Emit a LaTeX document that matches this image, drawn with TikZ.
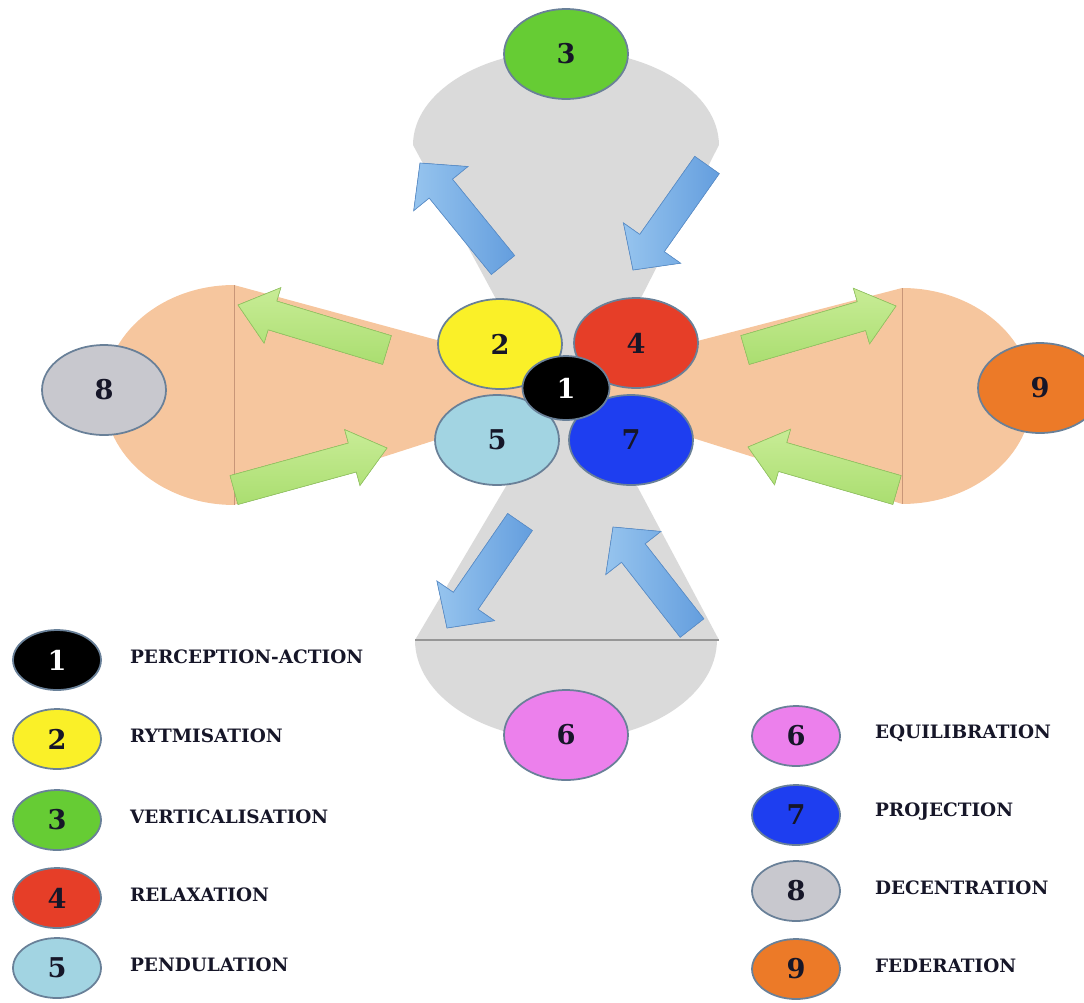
\documentclass[tikz,border=0pt]{standalone}
\usepackage{fontspec}
\setmainfont{DejaVu Serif}
\usetikzlibrary{shapes.geometric,calc,positioning}

\definecolor{graybg}{RGB}{218,218,218}
\definecolor{grayedge}{RGB}{150,150,150}
\definecolor{orangebg}{RGB}{246,198,158}
\definecolor{orangeedge}{RGB}{200,150,120}
\definecolor{bluearr}{RGB}{100,158,222}
\definecolor{bluelight}{RGB}{150,196,238}
\definecolor{bluearredge}{RGB}{92,145,205}
\definecolor{greenarr}{RGB}{170,222,112}
\definecolor{greenlight}{RGB}{200,236,150}
\definecolor{greenarredge}{RGB}{150,200,100}
\definecolor{ringcol}{RGB}{105,128,152}
\definecolor{inkcol}{RGB}{22,22,40}
\definecolor{c1}{RGB}{0,0,0}
\definecolor{c2}{RGB}{250,240,40}
\definecolor{c3}{RGB}{102,204,52}
\definecolor{c4}{RGB}{230,62,40}
\definecolor{c5}{RGB}{162,212,226}
\definecolor{c6}{RGB}{236,128,236}
\definecolor{c7}{RGB}{30,62,240}
\definecolor{c8}{RGB}{200,200,206}
\definecolor{c9}{RGB}{236,122,40}

% block arrow: style, tail, tip, shaft half width, head half width, head length
\newcommand{\blockarrow}[6]{%
  \filldraw[#1] ($(#2)!#4!90:(#3)$) -- ($(#3)!#6!(#2)!#4!90:(#3)$)
    -- ($(#3)!#6!(#2)!#5!90:(#3)$) -- (#3)
    -- ($(#3)!#6!(#2)!#5!-90:(#3)$) -- ($(#3)!#6!(#2)!#4!-90:(#3)$)
    -- ($(#2)!#4!-90:(#3)$) -- cycle;}

\begin{document}
\begin{tikzpicture}[x=0.02cm, y=-0.02cm,
  disc/.style={ellipse, draw=ringcol, line width=1pt, minimum width=2.48cm,
    minimum height=1.8cm, inner sep=0pt, text=inkcol,
    font=\bfseries\fontsize{15.5}{18}\selectfont},
  keydisc/.style={disc, minimum width=1.76cm, minimum height=1.2cm},
  keytext/.style={anchor=west, text=inkcol, yshift=0.06cm,
    font=\bfseries\fontsize{10.5}{12}\selectfont},
  bluearrow/.style={left color=bluelight, right color=bluearr, draw=bluearredge, line width=0.4pt},
  greenarrow/.style={top color=greenlight, bottom color=greenarr, draw=greenarredge, line width=0.4pt}]
  \useasboundingbox (0,0) rectangle (1084,1002);

  % gray lobes (top and bottom)
  \fill[graybg] (545,390) -- (413,145) arc[start angle=180, end angle=0,
    x radius=3.06cm, y radius=1.9cm] -- (594,390) -- cycle;
  \fill[graybg] (563,390) -- (415,640) arc[start angle=180, end angle=360,
    x radius=3.02cm, y radius=2cm] -- (719,640) -- (586,390) -- cycle;
  \draw[grayedge, line width=0.6pt] (415,640) -- (719,640);

  % orange lobes (left and right)
  \fill[orangebg] (234,285) arc[start angle=90, end angle=270,
    x radius=2.6cm, y radius=2.2cm] -- (566,398) -- (566,375) -- cycle;
  \fill[orangebg] (902,288) arc[start angle=90, end angle=-90,
    x radius=2.6cm, y radius=2.16cm] -- (566,398) -- (566,375) -- cycle;
  \draw[orangeedge, line width=0.5pt] (234,285) -- (234,505);
  \draw[orangeedge, line width=0.5pt] (902,288) -- (902,504);

  % blue arrows
  \foreach \tx/\ty/\hx/\hy in {503/265/420/163, 707/165/633/270,
                               520/522/447/628, 692/628/613/527} {
    \coordinate (tail) at (\tx,\ty);
    \coordinate (tip) at (\hx,\hy);
    \blockarrow{bluearrow}{tail}{tip}{0.3cm}{0.7cm}{0.66cm}
  }
  % green arrows
  \foreach \tx/\ty/\hx/\hy in {387/350/238/305, 234/490/387/448,
                               745/350/896/306, 897/490/748/447} {
    \coordinate (tail) at (\tx,\ty);
    \coordinate (tip) at (\hx,\hy);
    \blockarrow{greenarrow}{tail}{tip}{0.3cm}{0.58cm}{0.72cm}
  }

  % discs
  \node[disc, fill=c3] (n3) at (566,54) {3};
  \node[disc, fill=c6] (n6) at (566,735) {6};
  \node[disc, fill=c8] (n8) at (104,390) {8};
  \node[disc, fill=c9] (n9) at (1040,388) {9};
  \node[disc, fill=c2] (n2) at (500,344) {2};
  \node[disc, fill=c4] (n4) at (636,343) {4};
  \node[disc, fill=c5] (n5) at (497,440) {5};
  \node[disc, fill=c7] (n7) at (631,440) {7};
  \node[disc, fill=c1, text=white, minimum width=1.74cm, minimum height=1.28cm] (n1) at (566,388) {1};

  % legend
  \foreach \k/\x/\y/\g/\txt/\name in {1/57/660/0.44/white/PERCEPTION-ACTION,
      2/57/739/0.44/inkcol/RYTMISATION, 3/57/820/0.44/inkcol/VERTICALISATION,
      4/57/898/0.44/inkcol/RELAXATION, 5/57/968/0.44/inkcol/PENDULATION,
      6/796/736/0.56/inkcol/EQUILIBRATION, 7/796/815/0.56/inkcol/PROJECTION,
      8/796/891/0.56/inkcol/DECENTRATION, 9/796/969/0.56/inkcol/FEDERATION} {
    \node[keydisc, fill=c\k, text=\txt] (k\k) at (\x,\y) {\k};
    \node[keytext, right=\g cm of k\k] (t\k) {\name};
  }
\end{tikzpicture}
\end{document}
